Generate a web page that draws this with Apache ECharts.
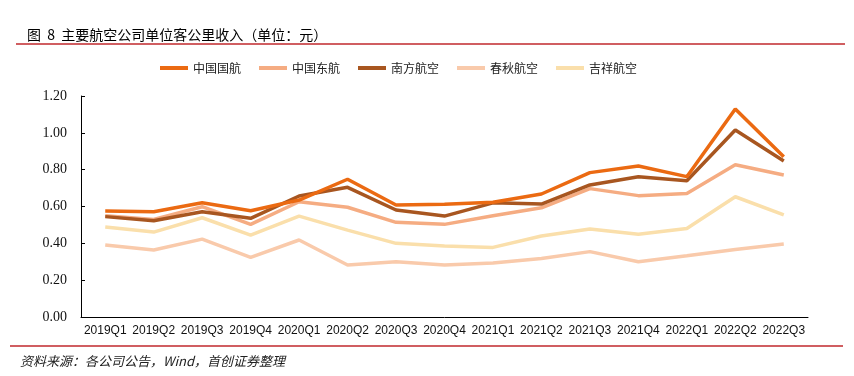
<!DOCTYPE html>
<html>
<head>
<meta charset="utf-8">
<script src="https://cdn.jsdelivr.net/npm/echarts@6/dist/echarts.min.js"></script>
<style>
	html, body { margin: 0; padding: 0; background: #fff; }
	#main { width: 854px; height: 376px; }
</style>
</head>
<body>
<div id="main"></div>
<script>
// 季度
const quarters = ['2019Q1', '2019Q2', '2019Q3', '2019Q4', '2020Q1', '2020Q2', '2020Q3', '2020Q4',
	'2021Q1', '2021Q2', '2021Q3', '2021Q4', '2022Q1', '2022Q2', '2022Q3']

// 单位客公里收入（元）
const airChina = [0.575, 0.572, 0.620, 0.577, 0.635, 0.748, 0.608, 0.612, 0.623, 0.668, 0.784, 0.820, 0.762, 1.129, 0.870]
const chinaEastern = [0.550, 0.530, 0.599, 0.503, 0.626, 0.596, 0.514, 0.503, 0.550, 0.593, 0.697, 0.659, 0.671, 0.827, 0.771]
const chinaSouthern = [0.545, 0.523, 0.572, 0.536, 0.657, 0.704, 0.581, 0.548, 0.620, 0.613, 0.717, 0.762, 0.740, 1.015, 0.847]
const springAir = [0.391, 0.364, 0.423, 0.324, 0.418, 0.282, 0.300, 0.282, 0.293, 0.318, 0.355, 0.300, 0.333, 0.367, 0.396]
const juneyao = [0.489, 0.461, 0.539, 0.445, 0.548, 0.472, 0.400, 0.385, 0.378, 0.440, 0.478, 0.449, 0.481, 0.653, 0.554]

const seriesNames = ['中国国航', '中国东航', '南方航空', '春秋航空', '吉祥航空']
const seriesColors = ['#EB6A12', '#F5AC82', '#A85620', '#F9CAAB', '#FADFAB']

const myChart = echarts.init(document.getElementById('main'))

const cjk = '"Noto Sans CJK SC", sans-serif'
const dataList = [airChina, chinaEastern, chinaSouthern, springAir, juneyao]

let option = {
	backgroundColor: '#ffffff',
	animation: false,
	title: {
		text: '图  8  主要航空公司单位客公里收入（单位：元）',
		left: 22,
		top: 23,
		textStyle: { fontFamily: cjk, fontSize: 14, fontWeight: 'normal', color: '#000' }
	},
	legend: {
		top: 57,
		left: 155,
		itemWidth: 28,
		itemHeight: 4,
		itemGap: 18,
		icon: 'rect',
		textStyle: { fontFamily: cjk, fontSize: 12, color: '#222' },
		data: seriesNames
	},
	grid: { left: 81, right: 46, top: 96, bottom: 59 },
	xAxis: {
		type: 'category',
		data: quarters,
		boundaryGap: true,
		axisLine: { lineStyle: { color: '#000', width: 1 } },
		axisTick: { inside: true, length: 4, lineStyle: { color: '#000' } },
		axisLabel: { interval: 0, fontFamily: 'Liberation Sans, Arial', fontSize: 12, color: '#111', margin: 8 }
	},
	yAxis: {
		type: 'value',
		min: 0,
		max: 1.2,
		interval: 0.2,
		splitLine: { show: false },
		axisLine: { show: true, lineStyle: { color: '#000', width: 1 } },
		axisTick: { show: true, inside: true, length: 4, lineStyle: { color: '#000' } },
		axisLabel: {
			fontFamily: '"Liberation Serif", "Times New Roman", serif',
			fontSize: 14,
			color: '#111',
			margin: 14,
			formatter: v => v.toFixed(2)
		}
	},
	series: seriesNames.map((name, i) => ({
		name: name,
		type: 'line',
		data: dataList[i],
		symbol: 'none',
		smooth: false,
		z: 10 - i,
		lineStyle: { color: seriesColors[i], width: 3.5 },
		itemStyle: { color: seriesColors[i] }
	})),
	graphic: [
		{ type: 'line', shape: { x1: 16, y1: 44, x2: 845, y2: 44 }, style: { stroke: '#C0282D', lineWidth: 1.5 } },
		{ type: 'line', shape: { x1: 10, y1: 346, x2: 843, y2: 346 }, style: { stroke: '#C0282D', lineWidth: 1.5 } },
		{
			type: 'text', left: 20, top: 355,
			style: { text: '资料来源：各公司公告，Wind，首创证券整理', font: 'italic 13px "Noto Sans CJK SC"', fill: '#222' }
		}
	]
}

// 南方航空画在东航上面
option.series[2].z = 9.5
myChart.setOption(option)
</script>
</body>
</html>
